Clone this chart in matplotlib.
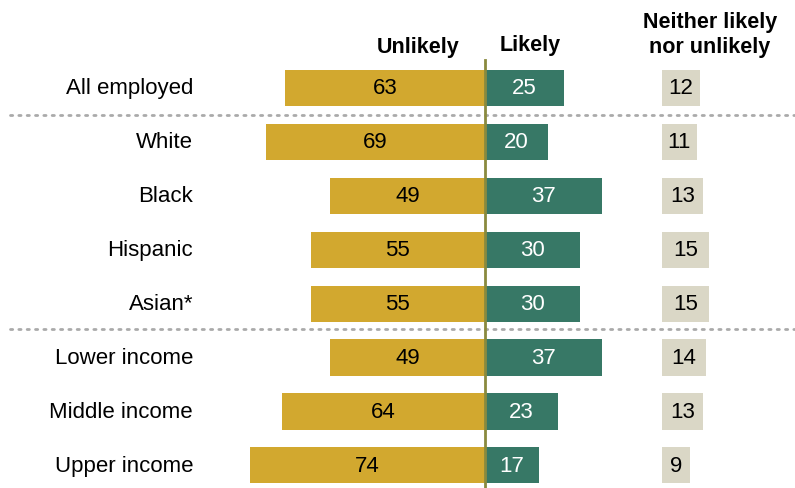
import matplotlib.pyplot as plt
import numpy as np

plt.rcParams["font.family"] = ["Liberation Sans", "DejaVu Sans"]

groups = ["All employed", "White", "Black", "Hispanic", "Asian*",
          "Lower income", "Middle income", "Upper income"]
unlikely = [63, 69, 49, 55, 55, 49, 64, 74]
likely = [25, 20, 37, 30, 30, 37, 23, 17]
neither = [12, 11, 13, 15, 15, 14, 13, 9]

GOLD = "#D2A82F"
GREEN = "#377866"
BEIGE = "#DAD7C6"
NEITHER_X0 = 55.8
FS = 16

fig = plt.figure(figsize=(7.95, 4.89), dpi=100)
ax = fig.add_axes([0, 0, 1, 1])
ax.set_xlim(-153, 97.8)
ax.set_ylim(7.42, -1.65)
ax.axis("off")

y = np.arange(len(groups))
h = 0.67
ax.barh(y, [-u for u in unlikely], height=h, color=GOLD)
ax.barh(y, likely, height=h, color=GREEN)
ax.barh(y, neither, left=NEITHER_X0, height=h, color=BEIGE)

for i in range(len(groups)):
    ax.text(-92.1, i, groups[i], ha="right", va="center", fontsize=FS)
    ax.text(-unlikely[i] / 2, i, str(unlikely[i]), ha="center", va="center",
            fontsize=FS, color="black")
    ax.text(likely[i] / 2, i, str(likely[i]), ha="center", va="center",
            fontsize=FS, color="white")
    ax.text(NEITHER_X0 + neither[i] / 2, i, str(neither[i]), ha="center",
            va="center", fontsize=FS, color="black")

# center line and dotted separators
ax.plot([0, 0], [-0.52, 7.42], color="#8A8A3E", lw=2, zorder=3)
for sy in [0.5, 4.47]:
    ax.plot([-150, 97.8], [sy, sy], color="#AAAAAA", lw=2,
            linestyle=(0, (0.8, 2.2)), dash_capstyle="round", zorder=1)

ax.text(-21, -0.76, "Unlikely", ha="center", va="center", fontsize=15.5,
        fontweight="bold")
ax.text(14.2, -0.8, "Likely", ha="center", va="center", fontsize=15.5,
        fontweight="bold")
ax.text(71, -1.0, "Neither likely\nnor unlikely", ha="center", va="center",
        fontsize=15.5, fontweight="bold", linespacing=1.2)

fig.savefig("out.png", dpi=100)
